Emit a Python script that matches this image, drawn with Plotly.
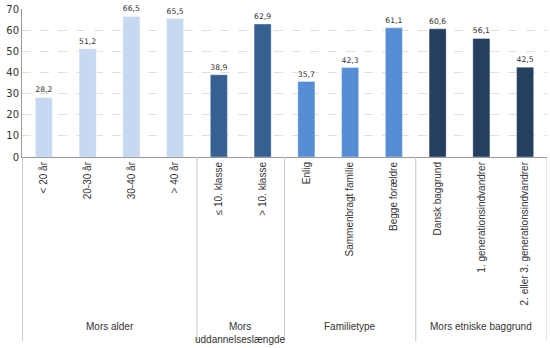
import plotly.graph_objects as go

categories = ["< 20 år", "20-30 år", "30-40 år", "> 40 år",
              "≤ 10. klasse", "> 10. klasse",
              "Enlig", "Sammenbragt familie", "Begge forældre",
              "Dansk baggrund", "1. generationsindvandrer", "2. eller 3. generationsindvandrer"]
values = [28.2, 51.2, 66.5, 65.5, 38.9, 62.9, 35.7, 42.3, 61.1, 60.6, 56.1, 42.5]
group_names = ["Mors alder", "Mors<br>uddannelseslængde", "Familietype", "Mors etniske baggrund"]
group_sizes = [4, 2, 3, 3]
group_colors = ["#C6D9F1", "#376092", "#558ED5", "#243F60"]
y_ticks = [0, 10, 20, 30, 40, 50, 60, 70]

colors = []
for c, n in zip(group_colors, group_sizes):
    colors += [c] * n

xs = list(range(len(categories)))
labels = [f"{v:.1f}".replace(".", ",") for v in values]

fig = go.Figure(go.Bar(
    x=xs, y=values, width=0.39,
    marker=dict(color=colors, line=dict(color="rgba(255,255,255,0.35)", width=1)),
    text=labels, textposition="outside", cliponaxis=False,
    textfont=dict(family="DejaVu Sans", size=8, color="#333333"),
    hoverinfo="skip",
))

top = 6
plot_h = 157 - top
shapes = []
annotations = []
start = 0
bottom = (157 - 345) / plot_h
for i, (name, n) in enumerate(zip(group_names, group_sizes)):
    end = start + n
    shapes.append(dict(type="line", xref="x", yref="paper", x0=end - 0.5, x1=end - 0.5,
                       y0=0, y1=bottom, line=dict(color="#C8C8C8", width=1)))
    annotations.append(dict(x=(start + end - 1) / 2, y=(157 - 322) / plot_h, xref="x", yref="paper",
                            text=name, showarrow=False, yanchor="top",
                            font=dict(family="Liberation Sans", size=10, color="#333333")))
    start = end
shapes.append(dict(type="line", xref="x", yref="paper", x0=-0.5, x1=-0.5,
                   y0=0, y1=bottom, line=dict(color="#999999", width=1)))

fig.update_layout(
    width=550, height=348,
    margin=dict(l=22, r=3, t=top, b=191),
    paper_bgcolor="white", plot_bgcolor="white",
    showlegend=False,
    shapes=shapes, annotations=annotations,
    xaxis=dict(range=[-0.5, len(categories) - 0.5], tickmode="array", tickvals=xs,
               ticktext=categories, tickangle=-90, showgrid=False, zeroline=False,
               showline=True, linecolor="#999999", ticks="",
               tickfont=dict(family="Liberation Sans", size=10, color="#333333")),
    yaxis=dict(range=[0, 70], tickmode="array", tickvals=y_ticks, showgrid=True,
               gridcolor="#E2E0D0", griddash="dash", zeroline=False,
               showline=True, linecolor="#999999", ticks="", ticklabeloverflow="allow",
               tickfont=dict(family="DejaVu Sans", size=10, color="#333333")),
)

fig.write_html("out.html")
